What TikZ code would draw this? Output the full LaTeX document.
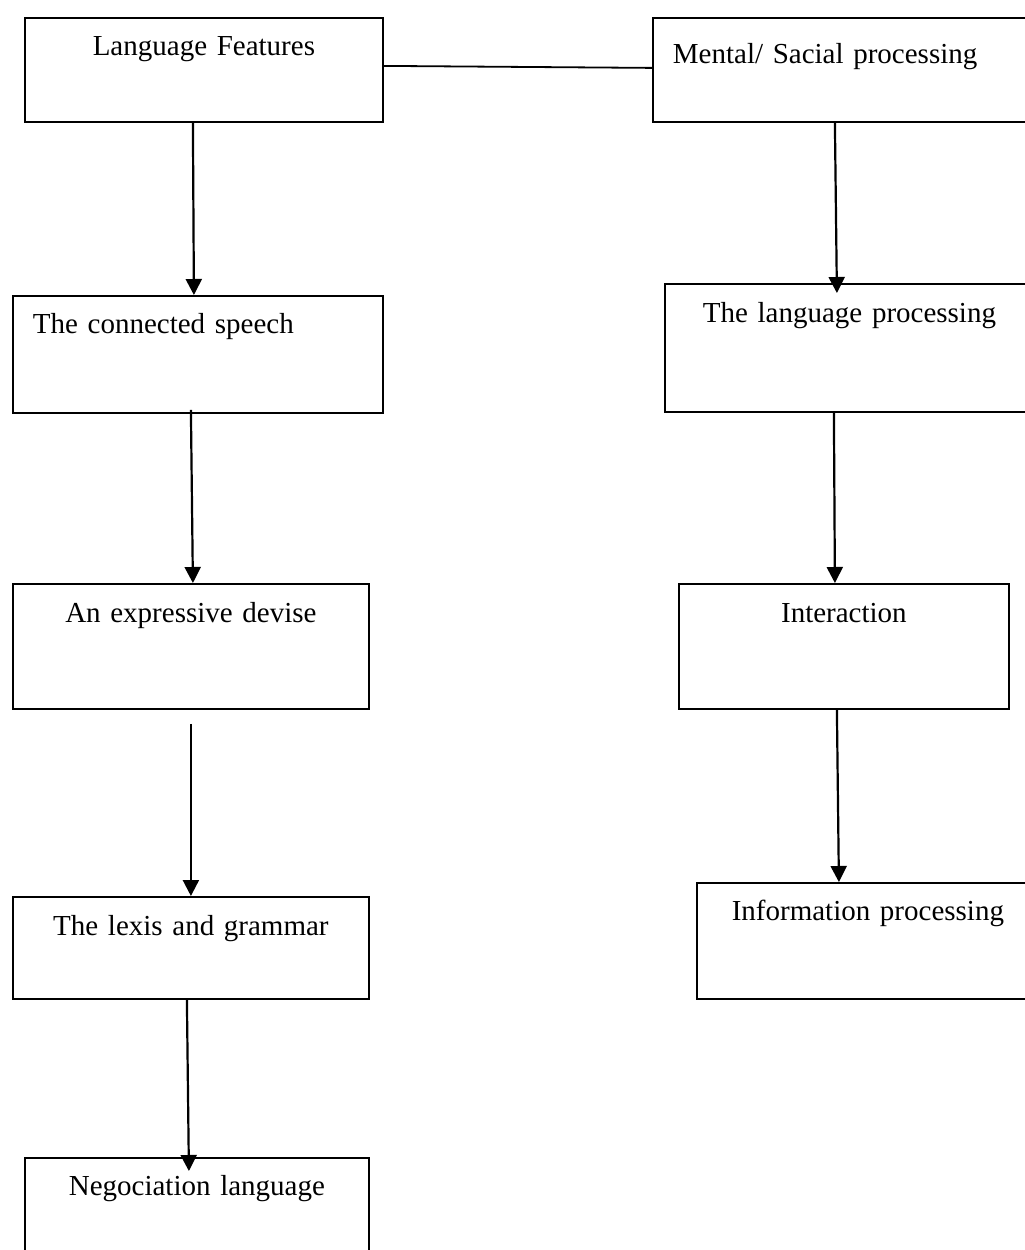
\documentclass[tikz,border=0pt]{standalone}
\usepackage{fontspec}
\setmainfont{Liberation Serif}
\usetikzlibrary{arrows.meta}

\begin{document}
\begin{tikzpicture}[
    x=1pt, y=-1pt,
    box/.style={
        draw,
        rectangle,
        line width=1.8pt,
        anchor=north west,
        inner xsep=0pt,
        inner ysep=0pt,
        align=center,
        text height=38pt,
        font=\fontsize{29}{34}\selectfont
    },
    leftbox/.style={box, align=left, inner xsep=20pt},
    edge/.style={line width=2.2pt, -{Triangle[length=16pt, width=16pt]}},
    link/.style={line width=1.8pt}
]
\useasboundingbox (0,0) rectangle (1025,1250);

\node[box, text width=358pt, text depth=66pt] (lf) at (24,17) {Language Features};
\node[leftbox, text width=338pt, text height=46pt, text depth=58pt] (ms) at (652,17) {Mental/ Sacial processing};

\node[leftbox, text width=330pt, text depth=79pt] (cs) at (12,295) {The connected speech};
\node[leftbox, inner xsep=38pt, text width=324pt, text height=39pt, text depth=89pt] (lp) at (664,283) {The language processing};

\node[box, text width=356pt, text height=39pt, text depth=86pt] (ed) at (12,583) {An expressive devise};
\node[box, text width=330pt, text height=39pt, text depth=86pt] (ia) at (678,583) {Interaction};

\node[box, text width=356pt, text height=39pt, text depth=63pt] (lg) at (12,896) {The lexis and grammar};
\node[box, text width=342pt, text depth=78pt] (ip) at (696,882) {Information processing};

\node[box, text width=344pt, text depth=72pt] (nl) at (24,1157) {Negociation language};

% left column
\draw[edge] ([xshift=-11pt]lf.south) -- ([xshift=-4pt]cs.north);
\draw[edge] ([xshift=-7pt, yshift=4pt]cs.south) -- ([xshift=2pt]ed.north);
\draw[edge] ([yshift=-14pt]ed.south) -- (lg.north);
\draw[edge] ([xshift=-4pt]lg.south) -- ([xshift=-8pt, yshift=-14pt]nl.north);

% right column
\draw[edge] ([xshift=-7pt]ms.south) -- ([xshift=-28pt, yshift=-10pt]lp.north);
\draw[edge] ([xshift=-31pt]lp.south) -- ([xshift=-9pt]ia.north);
\draw[edge] ([xshift=-7pt]ia.south) -- ([xshift=-29pt]ip.north);

\draw[link] ([yshift=4pt]lf.east) -- ([yshift=2pt]ms.west);

\end{tikzpicture}
\end{document}
